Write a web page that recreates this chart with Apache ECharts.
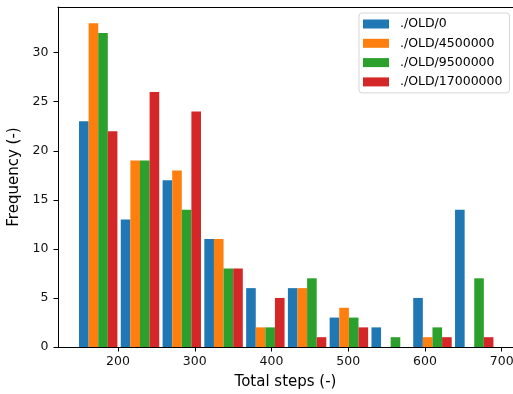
<!DOCTYPE html>
<html>
<head>
<meta charset="utf-8">
<script src="https://cdn.jsdelivr.net/npm/echarts@6/dist/echarts.min.js"></script>
<style>
  html, body { margin: 0; padding: 0; background: #fff; overflow: hidden; }
  #chart { width: 513px; height: 394px; }
</style>
</head>
<body>
<div id="chart"></div>
<script>
// Histogram bin edges (total steps) shared by every run
const binEdges = [147.0, 201.4, 255.9, 310.3, 364.8, 419.2, 473.6, 528.1, 582.5, 637.0, 691.4];

// Counts per bin for each run
const seriesNames = ['./OLD/0', './OLD/4500000', './OLD/9500000', './OLD/17000000'];
const countsOld0        = [23, 13, 17, 11, 6, 6, 3, 2, 5, 14];
const countsOld4500000  = [33, 19, 18, 11, 2, 6, 4, 0, 1, 0];
const countsOld9500000  = [32, 19, 14, 8, 2, 7, 3, 1, 2, 7];
const countsOld17000000 = [22, 26, 24, 8, 5, 1, 2, 0, 1, 1];
const allCounts = [countsOld0, countsOld4500000, countsOld9500000, countsOld17000000];

const colors = ['#1f77b4', '#ff7f0e', '#2ca02c', '#d62728'];

const xTicks = [200, 300, 400, 500, 600, 700];
const yTicks = [0, 5, 10, 15, 20, 25, 30];

const FONT = 'DejaVu Sans';
const groupFill = 0.92;          // share of each bin covered by the grouped bars
const nSeries = allCounts.length;
const X_MIN = 121.8, X_MAX = 714.7;

function makeSeries(k) {
  const data = allCounts[k].map((v, i) => [binEdges[i], binEdges[i + 1], v]);
  return {
    type: 'custom',
    name: seriesNames[k],
    itemStyle: { color: colors[k] },
    encode: { x: [0, 1], y: 2 },
    data: data,
    renderItem: function (params, api) {
      const lo = api.value(0), hi = api.value(1), v = api.value(2);
      const w = hi - lo;
      const barW = w * groupFill / nSeries;
      const x0 = lo + w * (1 - groupFill) / 2 + k * barW;
      const p0 = api.coord([x0, v]);
      const p1 = api.coord([x0 + barW, 0]);
      return {
        type: 'rect',
        shape: { x: p0[0], y: p0[1], width: p1[0] - p0[0], height: p1[1] - p0[1] },
        style: { fill: colors[k] }
      };
    }
  };
}

const chart = echarts.init(document.getElementById('chart'), null, { renderer: 'canvas' });

chart.setOption({
  animation: false,
  backgroundColor: '#ffffff',
  grid: { left: 58, right: 0, top: 7, bottom: 47, containLabel: false,
          outerBoundsMode: 'none', show: false },
  legend: {
    orient: 'vertical',
    left: 359, top: 13,
    padding: [4, 7, 4, 4],
    itemWidth: 26, itemHeight: 9, itemGap: 5.3,
    icon: 'rect',
    borderColor: '#d6d6d6', borderWidth: 1, borderRadius: 3,
    backgroundColor: 'rgba(255,255,255,0.8)',
    textStyle: { fontFamily: FONT, fontSize: 12.5, color: '#000', lineHeight: 14,
                 padding: [0, 0, 0, 6] },
    data: seriesNames
  },
  xAxis: [{
    type: 'value',
    min: X_MIN, max: X_MAX,
    name: 'Total steps (-)',
    nameLocation: 'middle', nameGap: 28,
    nameTextStyle: { fontFamily: FONT, fontSize: 15, color: '#000' },
    axisLine: { show: true, lineStyle: { color: '#000', width: 1 } },
    axisTick: { show: true, length: 4.5, customValues: xTicks, lineStyle: { color: '#000' } },
    axisLabel: { customValues: xTicks, margin: 8, fontFamily: FONT, fontSize: 12.5, color: '#111' },
    splitLine: { show: false }
  }, {
    // top spine
    type: 'value', position: 'top',
    min: X_MIN, max: X_MAX,
    axisLine: { show: true, lineStyle: { color: '#000', width: 1 } },
    axisTick: { show: false }, axisLabel: { show: false }, splitLine: { show: false }
  }],
  yAxis: {
    type: 'value',
    min: 0, max: 34.65,
    name: 'Frequency (-)',
    nameLocation: 'middle', nameGap: 27, nameRotate: 90,
    nameTextStyle: { fontFamily: FONT, fontSize: 15, color: '#000' },
    axisLine: { show: true, lineStyle: { color: '#000', width: 1 } },
    axisTick: { show: true, length: 4.5, customValues: yTicks, lineStyle: { color: '#000' } },
    axisLabel: { customValues: yTicks, margin: 9.5, fontFamily: FONT, fontSize: 12.5, color: '#111' },
    splitLine: { show: false }
  },
  series: allCounts.map((_, k) => makeSeries(k))
});
</script>
</body>
</html>
